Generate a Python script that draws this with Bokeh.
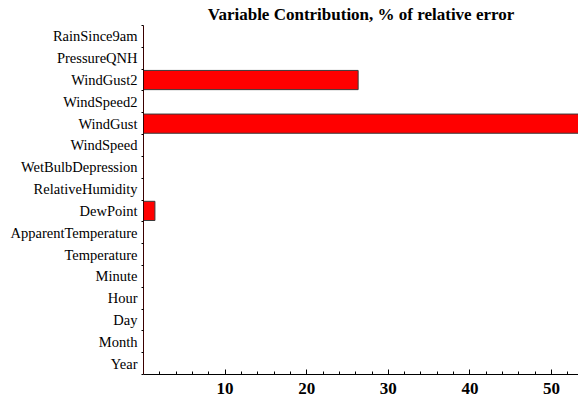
from bokeh.plotting import figure
from bokeh.models import FixedTicker, ColumnDataSource, Range1d
from bokeh.embed import file_html
from bokeh.resources import INLINE

variables = ["Year", "Month", "Day", "Hour", "Minute", "Temperature",
             "ApparentTemperature", "DewPoint", "RelativeHumidity",
             "WetBulbDepression", "WindSpeed", "WindGust", "WindSpeed2",
             "WindGust2", "PressureQNH", "RainSince9am"]
contribution = [0, 0, 0, 0, 0, 0, 0, 1.4, 0, 0, 0, 53.6, 0, 26.3, 0, 0]
x_ticks = [10, 20, 30, 40, 50]
x_minor = [2, 4, 6, 8, 12, 14, 16, 18, 22, 24, 26, 28, 32, 34, 36, 38,
           42, 44, 46, 48, 52]

pos = [i + 0.5 for i in range(len(variables))]
src = ColumnDataSource(dict(y=pos, v=contribution))

p = figure(width=578, height=403, output_backend="svg", toolbar_location=None,
           x_range=Range1d(0, 53.3), y_range=Range1d(0, len(variables)),
           min_border_left=143, min_border_right=0, min_border_top=25,
           min_border_bottom=29)
p.title.text = "Variable Contribution, % of relative error"
p.title.align = "center"
p.title.vertical_align = "top"
p.title.text_font = "Liberation Serif"
p.title.text_font_size = "17px"
p.title.text_font_style = "bold"
p.title.text_color = "black"
p.title.text_line_height = 0.7
p.title.standoff = 0

p.hbar(y="y", right="v", left=0, height=0.88, source=src,
       fill_color="#ff0000", line_color="#3a3a3a", line_width=1)

p.grid.visible = False
p.outline_line_color = None
p.background_fill_color = "white"
p.border_fill_color = "white"

xa = p.xaxis[0]
xa.ticker = FixedTicker(ticks=x_ticks, minor_ticks=x_minor)
xa.major_tick_in = 5
xa.major_tick_out = 0
xa.minor_tick_in = 3
xa.minor_tick_out = 0
xa.major_label_text_font = "Liberation Serif"
xa.major_label_text_font_style = "bold"
xa.major_label_text_font_size = "17px"
xa.major_label_text_color = "black"
xa.major_label_standoff = 8
xa.axis_line_color = "black"

ya = p.yaxis[0]
ya.ticker = FixedTicker(ticks=pos, minor_ticks=list(range(len(variables) + 1)))
ya.major_label_overrides = {pos[i]: variables[i] for i in range(len(variables))}
ya.major_tick_in = 0
ya.major_tick_out = 0
ya.minor_tick_in = 0
ya.minor_tick_out = 2
ya.major_label_text_font = "Liberation Serif"
ya.major_label_text_font_size = "14.5px"
ya.major_label_text_color = "black"
ya.major_label_standoff = 4
ya.axis_line_color = "#3a0000"

open("out.html", "w").write(file_html(p, INLINE))
